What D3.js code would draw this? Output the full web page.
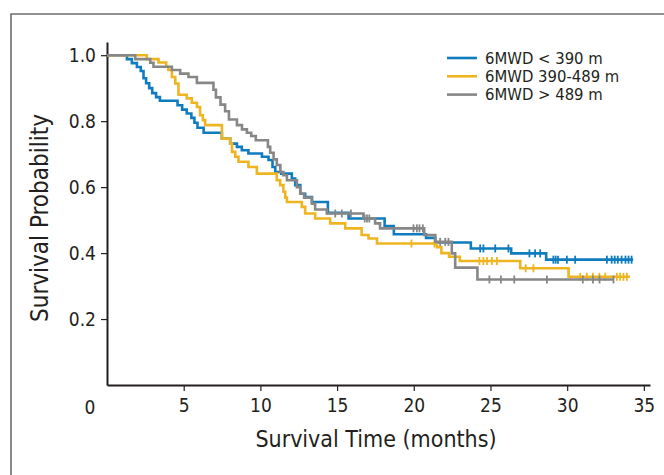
<!DOCTYPE html>
<html>
<head>
<meta charset="utf-8">
<script src="https://cdn.jsdelivr.net/npm/d3@7/dist/d3.min.js"></script>
<style>
  body { margin: 0; background: #fff; }
  svg text { font-family: "DejaVu Sans Condensed", "Liberation Sans", sans-serif; fill: #231f20; }
</style>
</head>
<body>
<div id="chart"></div>
<script>
// Kaplan-Meier curves by 6MWD group (time in months, survival probability)
const lowTime = [0, 1.3, 1.62, 1.95, 2.2, 2.38, 2.55, 2.75, 2.95, 3.2, 3.45, 4.6, 4.9, 5.2, 5.5, 5.7, 5.9, 6.3,
  7.49, 8.03, 8.47, 8.79, 9.22, 10.1, 10.53, 10.79, 10.97, 11.36, 12.05, 12.27, 12.6, 12.92, 13.36,
  14.4, 15.75, 18.1, 18.7, 20.8, 21.4, 23.72, 26.35, 28.63];
const lowSurv = [1.0, 0.988, 0.976, 0.964, 0.952, 0.93, 0.915, 0.9, 0.885, 0.873, 0.862, 0.848, 0.835, 0.823, 0.81, 0.795, 0.78, 0.765,
  0.747, 0.732, 0.722, 0.712, 0.702, 0.692, 0.682, 0.661, 0.646, 0.641, 0.626, 0.606, 0.58, 0.57, 0.555,
  0.522, 0.505, 0.482, 0.457, 0.446, 0.432, 0.414, 0.399, 0.38];
const lowEnd = 34.3;
const lowCensor = [24.33, 24.54, 25.31, 26.17, 27.54, 27.91, 28.24, 29.1, 29.25, 29.4, 29.98, 30.52,
  32.59, 32.9, 33.1, 33.3, 33.55, 33.8, 34.0, 34.2];

const midTime = [0, 2.6, 3.36, 3.86, 4.0, 4.23, 4.45, 4.66, 5.2, 5.53, 5.86, 6.07, 6.25, 6.4,
  7.49, 8.03, 8.15, 8.36, 8.57, 9.22, 9.77, 11.07, 11.29, 11.5, 11.62, 11.73, 12.7, 12.92, 13.57,
  14.55, 15.53, 16.6, 17.05, 17.6, 21.5, 21.8, 22.3, 23.0, 26.94, 30.09];
const midSurv = [1.0, 0.988, 0.978, 0.965, 0.955, 0.934, 0.914, 0.88, 0.869, 0.856, 0.843, 0.818, 0.803, 0.788,
  0.747, 0.732, 0.707, 0.692, 0.677, 0.661, 0.641, 0.621, 0.606, 0.586, 0.568, 0.555, 0.54, 0.52, 0.505,
  0.49, 0.475, 0.455, 0.444, 0.429, 0.418, 0.40, 0.389, 0.376, 0.354, 0.328];
const midEnd = 34.1;
const midCensor = [19.85, 21.35, 24.28, 24.54, 24.77, 25.09, 25.42, 27.3, 27.8, 30.85, 31.28, 31.68,
  32.1, 32.48, 33.24, 33.45, 33.67, 33.89];

const highTime = [0, 1.84, 2.82, 3.03, 4.23, 4.77, 5.31, 5.86, 6.94, 7.1, 7.4, 7.7, 7.95, 8.47, 8.8, 9.12,
  9.4, 9.7, 10.49, 10.64, 10.86, 11.07, 11.3, 11.5, 11.73, 12.38, 12.6, 12.85, 13.36, 13.57, 14.33,
  16.72, 17.48, 17.8, 20.68, 21.4, 22.48, 22.7, 24.15];
const highSurv = [1.0, 0.988, 0.977, 0.965, 0.955, 0.944, 0.934, 0.916, 0.895, 0.872, 0.85, 0.83, 0.805, 0.788, 0.775, 0.765,
  0.755, 0.742, 0.722, 0.704, 0.684, 0.667, 0.646, 0.636, 0.621, 0.60, 0.58, 0.568, 0.55, 0.532, 0.52,
  0.505, 0.49, 0.475, 0.455, 0.434, 0.399, 0.356, 0.32];
const highEnd = 33.02;
const highCensor = [14.88, 15.31, 15.9, 16.8, 16.95, 17.1, 19.98, 20.2, 20.37, 20.59, 21.72, 22.05, 22.26,
  24.93, 25.68, 26.55, 28.68, 31.02, 31.68, 32.11, 33.02];

const groupNames = ["6MWD < 390 m", "6MWD 390-489 m", "6MWD > 489 m"];
const groupColors = ["#0f7cc0", "#efb521", "#878787"];

const xTicks = [5, 10, 15, 20, 25, 30, 35];
const yTicks = [0.2, 0.4, 0.6, 0.8, 1.0];

const outerWidth = 664, outerHeight = 475;

const svg = d3.select("#chart").append("svg")
  .attr("width", outerWidth)
  .attr("height", outerHeight);

// outer frame (only left and top edges visible in the crop)
svg.append("path")
  .attr("d", "M11,475 L11,14 L664,14")
  .attr("fill", "none")
  .attr("stroke", "#6d6d6d")
  .attr("stroke-width", 1.6);

const xScale = d3.scaleLinear().domain([0, 35.4]).range([107, 650]);
const yScale = d3.scaleLinear().domain([0, 1.04]).range([385, 42]);

// axes
const xAxis = d3.axisBottom(xScale).tickValues(xTicks).tickSize(6).tickSizeOuter(0).tickPadding(8);
const yAxis = d3.axisLeft(yScale).tickValues(yTicks).tickSize(6).tickSizeOuter(0).tickPadding(5)
  .tickFormat(d3.format(".1f"));

const gx = svg.append("g")
  .attr("transform", "translate(0," + yScale(0) + ")")
  .call(xAxis);
const gy = svg.append("g")
  .attr("transform", "translate(" + xScale(0) + ",0)")
  .call(yAxis);

[gx, gy].forEach(function(g) {
  g.attr("font-family", null);
  g.select(".domain").attr("stroke", "#231f20").attr("stroke-width", 2);
  g.selectAll(".tick line").attr("stroke", "#231f20").attr("stroke-width", 1.2);
  g.selectAll(".tick text").attr("font-size", 19).style("fill", "#231f20");
});

// origin label sits left of the axis corner
svg.append("text")
  .attr("x", xScale(0) - 17)
  .attr("y", yScale(0) + 29)
  .attr("text-anchor", "middle")
  .attr("font-size", 19)
  .text("0");

// axis titles
svg.append("text")
  .attr("x", 376)
  .attr("y", 447)
  .attr("text-anchor", "middle")
  .attr("font-size", 23)
  .text("Survival Time (months)");

svg.append("text")
  .attr("transform", "translate(48,218) rotate(-90)")
  .attr("text-anchor", "middle")
  .attr("font-size", 24)
  .text("Survival Probability");

// curves
const series = [
  {time: lowTime, surv: lowSurv, end: lowEnd, censor: lowCensor, color: groupColors[0]},
  {time: midTime, surv: midSurv, end: midEnd, censor: midCensor, color: groupColors[1]},
  {time: highTime, surv: highSurv, end: highEnd, censor: highCensor, color: groupColors[2]}
];

const line = d3.line()
  .x(d => xScale(d[0]))
  .y(d => yScale(d[1]))
  .curve(d3.curveStepAfter);

function survAt(s, t) {
  const i = d3.bisectRight(s.time, t) - 1;
  return s.surv[Math.max(0, i)];
}

series.forEach(function(s) {
  const pts = s.time.map((t, i) => [t, s.surv[i]]);
  pts.push([s.end, s.surv[s.surv.length - 1]]);

  const g = svg.append("g");
  g.append("path")
    .attr("d", line(pts))
    .attr("fill", "none")
    .attr("stroke", s.color)
    .attr("stroke-width", 2.6);

  g.selectAll("line.censor")
    .data(s.censor)
    .join("line")
    .attr("class", "censor")
    .attr("x1", d => xScale(d))
    .attr("x2", d => xScale(d))
    .attr("y1", d => yScale(survAt(s, d)) - 4)
    .attr("y2", d => yScale(survAt(s, d)) + 4)
    .attr("stroke", s.color)
    .attr("stroke-width", 1.8);
});

// legend
const legend = svg.append("g")
  .attr("transform", "translate(447,58)");

groupNames.forEach(function(name, i) {
  legend.append("line")
    .attr("x1", 0).attr("x2", 30)
    .attr("y1", i * 18.3).attr("y2", i * 18.3)
    .attr("stroke", groupColors[i])
    .attr("stroke-width", 2.6);
  legend.append("text")
    .attr("x", 38)
    .attr("y", i * 18.3 + 5.5)
    .attr("font-size", 16.5)
    .text(name);
});
</script>
</body>
</html>
